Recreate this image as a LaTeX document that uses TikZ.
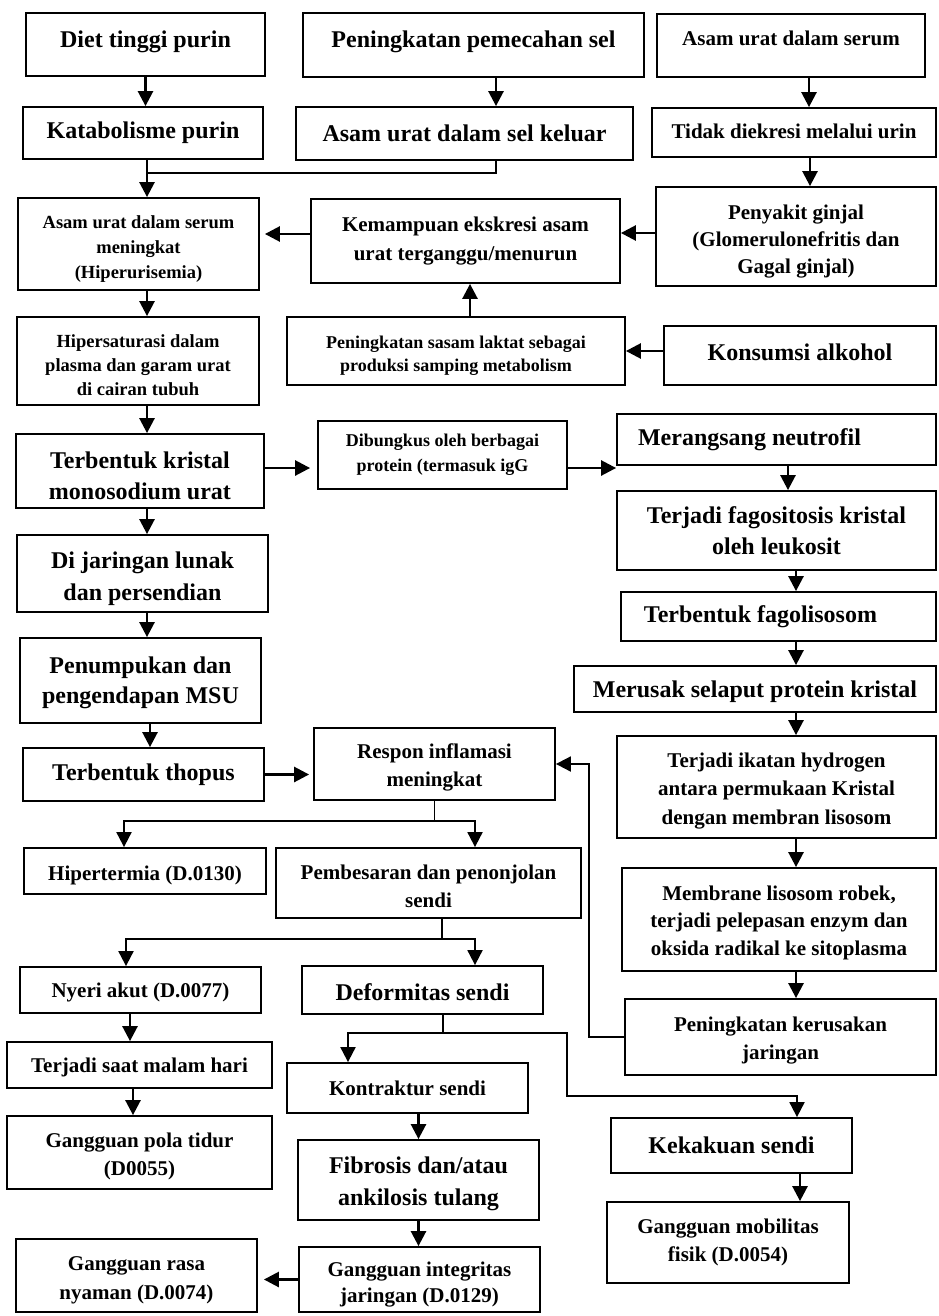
\documentclass[tikz,border=0pt]{standalone}
\usepackage{fontspec}
\setmainfont{Liberation Serif}
\usetikzlibrary{arrows.meta}
\tikzset{
  box/.style={draw, line width=1.8pt, inner sep=0pt, align=center},
  arr/.style={line width=2.6pt, -{Triangle[length=15pt,width=15pt]}},
  arrl/.style={line width=1.9pt, line join=miter, -{Triangle[length=15pt,width=15pt]}},
  ln/.style={line width=1.9pt},
}
\newcommand{\bx}[8]{%
  \node[box, minimum width={(#4-#2)*1pt}, minimum height={(#5-#3)*1pt},
        font=\bfseries\fontsize{#6}{#7}\selectfont] (#1) at ({(#2+#4)/2},{(#3+#5)/2}) {#8};}
% invisible struts: \dn moves the text down, \upr moves it up
\newcommand{\dn}[1]{\rule{0pt}{#1pt}}
\newcommand{\upr}[1]{\rule[-#1pt]{0pt}{0pt}}
\begin{document}
\begin{tikzpicture}[x=1pt,y=-1pt]
\useasboundingbox (0,0) rectangle (938,1316);
% boxes
\bx{diet}{26}{13}{265}{76}{24}{31}{Diet tinggi purin\upr{11}}
\bx{kata}{23}{107}{263}{159}{24}{31}{Katabolisme purin}
\bx{pecah}{303}{13}{644}{77}{24}{31}{Peningkatan pemecahan sel\upr{11}}
\bx{keluar}{296}{107}{633}{160}{24}{31}{Asam urat dalam sel keluar}
\bx{serum}{657}{14}{925}{77}{21}{28}{Asam urat dalam serum\upr{15}}
\bx{tidak}{652}{108}{936}{157}{21}{28}{Tidak diekresi melalui urin\upr{3}}
\bx{ginjal}{656}{187}{936}{286}{21}{27}{\dn{24.5}Penyakit ginjal\\(Glomerulonefritis dan\\Gagal ginjal)}
\bx{hiper}{18}{198}{259}{290}{18.5}{25}{\dn{22.5}Asam urat dalam serum\\meningkat\\(Hiperurisemia)}
\bx{kemamp}{311}{199}{620}{283}{21}{29}{Kemampuan ekskresi asam\\urat terganggu/menurun}
\bx{satur}{17}{317}{259}{405}{18.5}{24}{\dn{21}Hipersaturasi dalam\\plasma dan garam urat\\di cairan tubuh}
\bx{laktat}{287}{317}{625}{385}{18}{23}{\dn{21.5}Peningkatan sasam laktat sebagai\\produksi samping metabolism}
\bx{alkohol}{664}{326}{936}{385}{24}{31}{Konsumsi alkohol\upr{7.5}}
\bx{kristal}{16}{434}{264}{508}{24}{31}{\dn{26.5}Terbentuk kristal\\monosodium urat}
\bx{bungkus}{318}{421}{567}{489}{18}{25}{Dibungkus oleh berbagai\\protein (termasuk igG}
\bx{neutro}{617}{414}{936}{465}{24}{31}{\hbox{Merangsang neutrofil\kern54pt}}
\bx{fago}{617}{491}{936}{570}{24}{31}{Terjadi fagositosis kristal\\oleh leukosit}
\bx{fagoli}{621}{592}{936}{641}{24}{31}{\hbox{Terbentuk fagolisosom\kern36pt}}
\bx{rusak}{574}{666}{936}{712}{24}{31}{\dn{23}Merusak selaput protein kristal}
\bx{lunak}{17}{535}{268}{612}{24}{32}{\dn{26.5}Di jaringan lunak\\dan persendian}
\bx{tumpuk}{20}{638}{261}{723}{24}{30}{\dn{21}Penumpukan dan\\pengendapan MSU}
\bx{thopus}{23}{748}{264}{801}{24}{31}{Terbentuk thopus}
\bx{respon}{314}{728}{555}{800}{21}{28}{\dn{22.5}Respon inflamasi\\meningkat}
\bx{ikatan}{617}{736}{936}{838}{21}{28.5}{\dn{22.5}Terjadi ikatan hydrogen\\antara permukaan Kristal\\dengan membran lisosom}
\bx{membr}{622}{868}{936}{971}{21}{27.5}{\dn{20.5}Membrane lisosom robek,\\terjadi pelepasan enzym dan\\oksida radikal ke sitoplasma}
\bx{kerus}{625}{999}{936}{1075}{21}{28}{\dn{22.5}Peningkatan kerusakan\\jaringan}
\bx{hipert}{24}{848}{266}{894}{21}{28}{\dn{22.5}Hipertermia (D.0130)}
\bx{besar}{276}{848}{581}{918}{21}{28}{\dn{20.5}Pembesaran dan penonjolan\\sendi}
\bx{nyeri}{20}{967}{261}{1013}{21}{28}{\dn{20.5}Nyeri akut (D.0077)}
\bx{deform}{302}{966}{543}{1014}{24}{31}{\dn{20.5}Deformitas sendi}
\bx{malam}{7}{1042}{272}{1088}{21}{28}{\dn{18.5}Terjadi saat malam hari}
\bx{tidur}{7}{1116}{272}{1189}{21}{28}{\dn{22.5}Gangguan pola tidur\\(D0055)}
\bx{kontr}{287}{1063}{528}{1113}{21}{28}{Kontraktur sendi}
\bx{fibro}{298}{1140}{539}{1220}{24}{32}{\dn{24.5}Fibrosis dan/atau\\ankilosis tulang}
\bx{integ}{299}{1247}{540}{1312}{21}{26}{\dn{24.5}Gangguan integritas\\jaringan (D.0129)}
\bx{nyaman}{16}{1239}{257}{1312}{21}{29}{\dn{22.5}Gangguan rasa\\nyaman (D.0074)}
\bx{kaku}{611}{1118}{852}{1173}{24}{31}{Kekakuan sendi}
\bx{mobil}{607}{1202}{849}{1283}{21}{28}{Gangguan mobilitas\\fisik (D.0054)}
% helper coordinates
\coordinate (m1) at (147,173);
\coordinate (m2) at (496,173);
\coordinate (a809) at (809,0);
\coordinate (a810) at (810,0);
\coordinate (b233) at (0,233);
\coordinate (b234) at (0,234);
\coordinate (a470) at (470,0);
\coordinate (a147) at (147,0);
\coordinate (a150) at (150,0);
\coordinate (b468) at (0,468);
\coordinate (a788) at (788,0);
\coordinate (a796) at (796,0);
\coordinate (k1) at (589,764);
\coordinate (r1) at (124,821);
\coordinate (r2) at (475,821);
\coordinate (p1) at (442,939);
\coordinate (p2) at (126,939);
\coordinate (p3) at (475,939);
\coordinate (a130) at (130,0);
\coordinate (a133) at (133,0);
\coordinate (d1) at (443,1033);
\coordinate (d2) at (348,1033);
\coordinate (d3) at (567,1033);
\coordinate (d4) at (567,1096);
\coordinate (d5) at (797,1096);
\coordinate (a800) at (800,0);
% connectors
\draw[arr] (diet.south) -- (diet.south |- kata.north);
\draw[arr] (pecah.south -| m2) -- (keluar.north -| m2);
\draw[ln] (keluar.south -| m2) -- (m2) -- (m1);
\draw[arr] (kata.south -| m1) -- (m1 |- hiper.north);
\draw[arr] (serum.south -| a809) -- (tidak.north -| a809);
\draw[arr] (tidak.south -| a810) -- (ginjal.north -| a810);
\draw[arr] (ginjal.west |- b233) -- (kemamp.east |- b233);
\draw[arr, shorten >=5pt] (kemamp.west |- b234) -- (hiper.east |- b234);
\draw[arr] (laktat.north -| a470) -- (kemamp.south -| a470);
\draw[arr] (alkohol.west |- laktat.east) -- (laktat.east);
\draw[arr] (hiper.south -| a147) -- (satur.north -| a147);
\draw[arr] (satur.south -| a147) -- (kristal.north -| a147);
\draw[arr] (kristal.south -| a147) -- (lunak.north -| a147);
\draw[arr] (lunak.south -| a147) -- (tumpuk.north -| a147);
\draw[arr] (tumpuk.south -| a150) -- (thopus.north -| a150);
\draw[arr, shorten >=7pt] (kristal.east |- b468) -- (bungkus.west |- b468);
\draw[arr] (bungkus.east |- b468) -- (neutro.west |- b468);
\draw[arr] (neutro.south -| a788) -- (fago.north -| a788);
\draw[arr] (fago.south -| a796) -- (fagoli.north -| a796);
\draw[arr] (fagoli.south -| a796) -- (rusak.north -| a796);
\draw[arr] (rusak.south -| a796) -- (ikatan.north -| a796);
\draw[arr] (ikatan.south -| a796) -- (membr.north -| a796);
\draw[arr] (membr.south -| a796) -- (kerus.north -| a796);
\draw[arrl] (kerus.west) -| (k1) -- (respon.east);
\draw[arr, shorten >=4pt] (thopus.east) -- (thopus.east -| respon.west);
\draw[arrl] (respon.south) -- (respon.south |- r1) -- (r1) -- (r1 |- hipert.north);
\draw[arrl] (respon.south |- r1) -- (r2) -- (r2 |- besar.north);
\draw[arrl] (besar.south -| p1) -- (p1) -- (p2) -- (p2 |- nyeri.north);
\draw[arrl] (p1) -- (p3) -- (p3 |- deform.north);
\draw[arr] (nyeri.south -| a130) -- (malam.north -| a130);
\draw[arr] (malam.south -| a133) -- (tidur.north -| a133);
\draw[arrl] (deform.south -| d1) -- (d1) -- (d2) -- (d2 |- kontr.north);
\draw[arrl] (d1) -- (d3) -- (d4) -- (d5) -- (d5 |- kaku.north);
\draw[arr] (fibro.north |- kontr.south) -- (fibro.north);
\draw[arr] (fibro.south) -- (fibro.south |- integ.north);
\draw[arr, shorten >=6pt] (integ.west) -- (integ.west -| nyaman.east);
\draw[arr] (kaku.south -| a800) -- (mobil.north -| a800);
\end{tikzpicture}
\end{document}
